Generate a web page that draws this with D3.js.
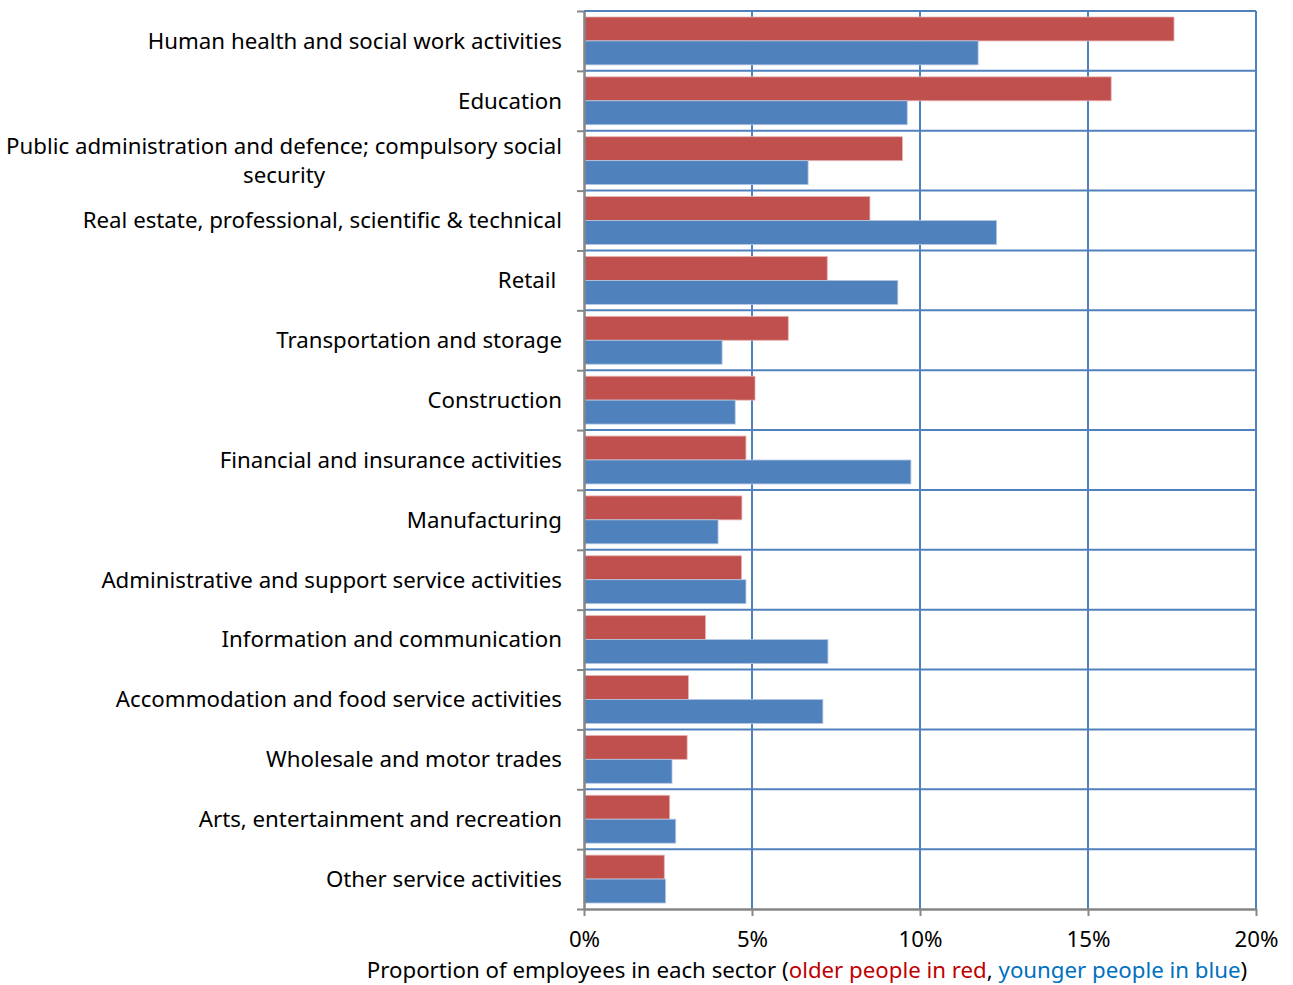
<!DOCTYPE html>
<html><head><meta charset="utf-8">
<script src="https://cdn.jsdelivr.net/npm/d3@7"></script>
<style>
body{margin:0;background:#fff;}
text{font-family:"Noto Sans","Open Sans",sans-serif;fill:#000;}
</style></head>
<body><svg id="c" width="1293" height="985"></svg>
<script>
const categories = [
 ["Human health and social work activities"],
 ["Education"],
 ["Public administration and defence; compulsory social","security"],
 ["Real estate, professional, scientific & technical"],
 ["Retail "],
 ["Transportation and storage"],
 ["Construction"],
 ["Financial and insurance activities"],
 ["Manufacturing"],
 ["Administrative and support service activities"],
 ["Information and communication"],
 ["Accommodation and food service activities"],
 ["Wholesale and motor trades"],
 ["Arts, entertainment and recreation"],
 ["Other service activities"]
];
const older = [17.56,15.69,9.48,8.51,7.24,6.08,5.09,4.82,4.70,4.69,3.62,3.11,3.07,2.55,2.39];
const younger = [11.73,9.62,6.67,12.28,9.34,4.11,4.50,9.73,3.99,4.82,7.26,7.11,2.62,2.73,2.43];
const xTicks = [0,5,10,15,20];

const FS = 22.25;
const svg = d3.select("#c");
const L=584, R=1256, T=11, B=909;
const x = d3.scaleLinear().domain([0,20]).range([L,R]);
const y = d3.scaleBand().domain(d3.range(categories.length)).range([T,B]);
const sub = d3.scaleBand().domain([0,1]).range([0,y.bandwidth()]).paddingOuter(0.25).paddingInner(0);

const blue="#4F81BD", red="#C0504D", grid="#4F81BD", axisCol="#868686";

// gridlines
const g = svg.append("g");
xTicks.slice(1).forEach(t=>{
  g.append("line").attr("x1",x(t)).attr("x2",x(t)).attr("y1",T).attr("y2",B)
   .attr("stroke",grid).attr("stroke-width",2);
});
d3.range(categories.length).forEach(i=>{
  g.append("line").attr("x1",L).attr("x2",R).attr("y1",y(i)).attr("y2",y(i))
   .attr("stroke",grid).attr("stroke-width",2);
});

// bars
const bars = svg.append("g");
categories.forEach((c,i)=>{
  bars.append("rect").attr("x",x(0)).attr("y",y(i)+sub(0)).attr("width",x(older[i])-x(0)).attr("height",sub.bandwidth())
   .attr("fill",red).attr("stroke","#e8b5b4").attr("stroke-width",0.8);
  bars.append("rect").attr("x",x(0)).attr("y",y(i)+sub(1)).attr("width",x(younger[i])-x(0)).attr("height",sub.bandwidth())
   .attr("fill",blue).attr("stroke","#b5c8e3").attr("stroke-width",0.8);
});

// axes
const xAxis = d3.axisBottom(x).tickValues(xTicks).tickFormat(d=>d+"%").tickSize(7).tickSizeOuter(0).tickPadding(15);
const ax = svg.append("g").attr("transform",`translate(0,${B})`).call(xAxis);
ax.select(".domain").attr("stroke",axisCol).attr("stroke-width",2.5);
ax.selectAll(".tick line").attr("stroke",axisCol).attr("stroke-width",2);
ax.selectAll(".tick text").attr("font-size",FS).style("font-family",'"Noto Sans","Open Sans",sans-serif').attr("fill","#000");

// left axis
const yEdges = d3.scaleLinear().domain([0,categories.length]).range([T,B]);
const ay = svg.append("g").attr("transform",`translate(${L},0)`)
  .call(d3.axisLeft(yEdges).tickValues(d3.range(categories.length+1)).tickSize(7).tickSizeOuter(0).tickFormat(""));
ay.select(".domain").attr("stroke",axisCol).attr("stroke-width",2.5);
ay.selectAll(".tick line").attr("stroke",axisCol).attr("stroke-width",2);

// top border
svg.append("line").attr("x1",L).attr("x2",R).attr("y1",T).attr("y2",T).attr("stroke",grid).attr("stroke-width",2);

// category labels
categories.forEach((c,i)=>{
  const cy = y(i)+y.bandwidth()/2;
  const lh = 29;
  if(c.length===1){
    svg.append("text").attr("x",562).attr("y",cy).attr("dy","0.35em").attr("text-anchor","end")
      .attr("font-size",FS).style("white-space","pre").text(c[0]);
  } else {
    const t = svg.append("text").attr("font-size",FS).attr("text-anchor","middle");
    const tmp = svg.append("text").attr("font-size",FS).text(c[0]);
    const w = tmp.node().getComputedTextLength(); tmp.remove();
    const cx = 562 - w/2;
    c.forEach((line,k)=>{
      t.append("tspan").attr("x",cx).attr("y",cy + (k-(c.length-1)/2)*lh).attr("dy","0.35em").text(line);
    });
  }
});

// axis title
const title = svg.append("text").attr("x",807).attr("y",978).attr("text-anchor","middle").attr("font-size",FS);
title.append("tspan").text("Proportion of employees in each sector (");
title.append("tspan").attr("fill","#C00000").text("older people in red");
title.append("tspan").text(", ");
title.append("tspan").attr("fill","#0070C0").text("younger people in blue");
title.append("tspan").text(")");
</script></body></html>
